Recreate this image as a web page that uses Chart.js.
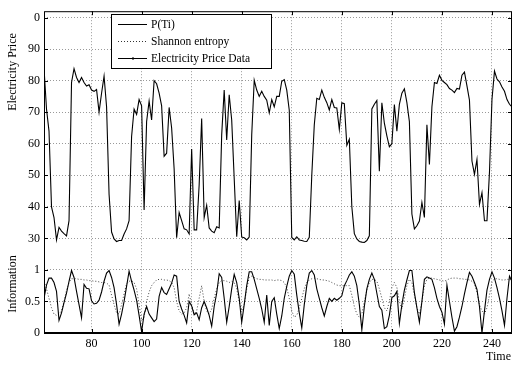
<!DOCTYPE html>
<html>
<head>
<meta charset="utf-8">
<script src="https://cdn.jsdelivr.net/npm/chart.js@4.4.0/dist/chart.umd.min.js"></script>
<style>
  html, body { margin: 0; padding: 0; background: #fff; }
  #wrap { width: 513px; height: 365px; }
</style>
</head>
<body>
<div id="wrap"><canvas id="chart" width="513" height="365"></canvas></div>
<script>
// time runs from 61 to 248, one sample per step
const startTime = 61;

const price = [
    84, 71, 64, 40, 36.6, 29.5, 33.5, 32.3, 31.5, 30.8,
    35.6, 79.4, 83.8, 81, 79.4, 81, 79.4, 78.3, 78.7, 77,
    76.6, 77.2, 70, 76, 81.4, 71.7, 44, 32, 29.8, 29,
    29.3, 29.3, 31.4, 33, 35.6, 62.3, 71, 69.3, 74, 72,
    39, 67, 73.5, 67.5, 80, 79, 76, 72, 56, 57,
    71.5, 65, 52, 30.2, 38.2, 35.6, 33, 32.7, 31.4, 58.3,
    32.7, 32.7, 47, 68, 36.6, 40.5, 33.3, 32.3, 31.8, 33.7,
    33.3, 62.8, 77, 61.2, 75.5, 67.5, 49, 30.5, 42, 30.4,
    30.2, 29.5, 30.4, 62.8, 80.1, 77, 75, 76.6, 75, 73.8,
    69.8, 74, 71.7, 75, 75, 79.8, 80.3, 77, 70.6, 30.3,
    29.5, 30.5, 29.5, 29.3, 29.1, 29, 30.3, 50, 66, 74.4,
    74, 77, 74.7, 73, 70.7, 74, 71.5, 71.3, 64.5, 73,
    72.7, 59.5, 61.4, 40, 31.5, 29.8, 29, 28.8, 28.7, 29.3,
    30.8, 71, 72.5, 73.7, 51.3, 73, 66.5, 62.5, 59, 60,
    72.4, 64, 72.5, 76, 77.4, 73, 67, 37.7, 33, 34,
    35.5, 41.4, 36.6, 66, 53.4, 71.7, 79.4, 79.1, 81.7, 80.1,
    79.4, 78.7, 77.5, 77, 76.2, 77.5, 77.3, 81.7, 82.7, 78.3,
    73.8, 54.5, 50.3, 55, 40.8, 44.5, 35.6, 35.6, 51, 74,
    83, 80.5, 79.6, 78, 76.6, 74, 72.5, 71.7
];

const pTi = [
    0.55, 0.76, 0.87, 0.87, 0.8, 0.66, 0.2, 0.32, 0.48, 0.63,
    0.82, 0.99, 0.88, 0.66, 0.45, 0.24, 0.77, 0.71, 0.7, 0.51,
    0.46, 0.47, 0.52, 0.65, 0.82, 0.95, 0.99, 0.88, 0.72, 0.45,
    0.14, 0.3, 0.5, 0.74, 0.98, 0.82, 0.68, 0.52, 0.28, 0.02,
    0.3, 0.42, 0.3, 0.24, 0.18, 0.22, 0.58, 0.72, 0.64, 0.61,
    0.7, 0.79, 0.92, 0.9, 0.5, 0.38, 0.28, 0.16, 0.5, 0.43,
    0.29, 0.32, 0.21, 0.4, 0.5, 0.4, 0.28, 0.11, 0.42, 0.63,
    0.94, 0.88, 0.55, 0.17, 0.42, 0.7, 0.93, 0.8, 0.55, 0.17,
    0.45, 0.75, 0.97, 0.97, 0.85, 0.7, 0.55, 0.38, 0.17, 0.6,
    0.12, 0.5, 0.56, 0.3, 0.07, 0.27, 0.55, 0.74, 0.9, 0.99,
    0.93, 0.6, 0.32, 0.08, 0.45, 0.75, 0.95, 0.99, 0.92, 0.7,
    0.55, 0.4, 0.27, 0.42, 0.55, 0.5, 0.55, 0.52, 0.55, 0.59,
    0.75, 0.83, 0.92, 0.97, 0.9, 0.75, 0.45, 0.05, 0.42, 0.7,
    0.85, 0.95, 0.85, 0.63, 0.42, 0.36, 0.07, 0.1, 0.28, 0.56,
    0.59, 0.66, 0.15, 0.45, 0.68, 0.84, 0.99, 0.99, 0.64, 0.4,
    0.17, 0.5, 0.85, 0.89, 0.87, 0.85, 0.72, 0.55, 0.42, 0.33,
    0.14, 0.76, 0.5, 0.25, 0.03, 0.1, 0.25, 0.42, 0.62, 0.8,
    0.96, 0.9, 0.8, 0.69, 0.42, 0.0, 0.35, 0.68, 0.85, 0.97,
    0.87, 0.72, 0.55, 0.35, 0.12, 0.55, 0.9, 0.82
];

const shannon = [
    0.82, 0.7, 0.55, 0.4, 0.3, 0.28, 0.3, 0.35, 0.5, 0.68,
    0.8, 0.86, 0.86, 0.86, 0.85, 0.85, 0.84, 0.84, 0.83, 0.83,
    0.82, 0.82, 0.81, 0.8, 0.8, 0.79, 0.76, 0.6, 0.45, 0.32,
    0.3, 0.45, 0.62, 0.78, 0.82, 0.83, 0.8, 0.7, 0.45, 0.2,
    0.25, 0.5, 0.65, 0.75, 0.8, 0.84, 0.85, 0.85, 0.84, 0.84,
    0.83, 0.8, 0.72, 0.5, 0.35, 0.3, 0.32, 0.4, 0.62, 0.45,
    0.3, 0.35, 0.55, 0.75, 0.5, 0.35, 0.3, 0.38, 0.55, 0.7,
    0.8, 0.83, 0.83, 0.82, 0.8, 0.82, 0.8, 0.7, 0.5, 0.35,
    0.45, 0.7, 0.88, 0.9, 0.88, 0.86, 0.85, 0.85, 0.84, 0.84,
    0.84, 0.84, 0.83, 0.84, 0.84, 0.83, 0.8, 0.72, 0.55, 0.35,
    0.25, 0.28, 0.4, 0.55, 0.7, 0.8, 0.84, 0.86, 0.87, 0.86,
    0.85, 0.84, 0.84, 0.83, 0.82, 0.8, 0.78, 0.76, 0.75, 0.75,
    0.75, 0.75, 0.75, 0.6, 0.42, 0.3, 0.25, 0.3, 0.5, 0.68,
    0.8, 0.85, 0.85, 0.82, 0.7, 0.55, 0.4, 0.35, 0.5, 0.72,
    0.8, 0.72, 0.5, 0.38, 0.55, 0.75, 0.85, 0.8, 0.6, 0.4,
    0.3, 0.5, 0.75, 0.85, 0.87, 0.87, 0.86, 0.85, 0.84, 0.83,
    0.82, 0.84, 0.86, 0.87, 0.87, 0.87, 0.86, 0.86, 0.85, 0.85,
    0.84, 0.82, 0.78, 0.65, 0.45, 0.35, 0.3, 0.4, 0.6, 0.8,
    0.86, 0.86, 0.85, 0.84, 0.84, 0.85, 0.85, 0.84
];

// information (0..1) shares the price axis, drawn in the 0..20 band
const infoScale = 20;

const xTicks = [80, 100, 120, 140, 160, 180, 200, 220, 240];
const yTicks = [0, 10, 20, 30, 40, 50, 60, 70, 80, 90, 100];
const yTickLabels = ['0', '0.5', '1', '30', '40', '50', '60', '70', '80', '90', '0'];
const legendLabels = ['P(Ti)', 'Shannon entropy', 'Electricity Price Data'];

const FONT = "'Liberation Serif', 'DejaVu Serif', serif";

function toPoints(values, scale) {
    return values.map((v, i) => ({ x: startTime + i, y: v * scale }));
}

const decorPlugin = {
    id: 'decor',
    afterDatasetsDraw(chart) {
        const { ctx, chartArea: a, scales } = chart;
        const x = scales.x, y = scales.y;
        ctx.save();

        // frame
        ctx.strokeStyle = '#000';
        ctx.lineWidth = 1;
        ctx.strokeRect(a.left + 0.5, a.top + 0.5, a.right - a.left - 1, a.bottom - a.top - 1);
        ctx.lineWidth = 2;
        ctx.beginPath();
        ctx.moveTo(a.left, a.bottom);
        ctx.lineTo(a.right, a.bottom);
        ctx.stroke();

        // inward tick marks
        ctx.lineWidth = 1;
        ctx.beginPath();
        xTicks.forEach(v => {
            const px = Math.round(x.getPixelForValue(v)) + 0.5;
            ctx.moveTo(px, a.bottom); ctx.lineTo(px, a.bottom - 4);
            ctx.moveTo(px, a.top); ctx.lineTo(px, a.top + 4);
        });
        yTicks.forEach(v => {
            const py = Math.round(y.getPixelForValue(v)) + 0.5;
            ctx.moveTo(a.left, py); ctx.lineTo(a.left + 4, py);
            ctx.moveTo(a.right, py); ctx.lineTo(a.right - 4, py);
        });
        ctx.stroke();

        // legend
        const bx = 111.5, by = 14.5, bw = 160, bh = 54;
        ctx.fillStyle = '#fff';
        ctx.fillRect(bx, by, bw, bh);
        ctx.strokeStyle = '#000';
        ctx.lineWidth = 1;
        ctx.strokeRect(bx, by, bw, bh);
        const rows = [24.5, 41.5, 58.5];
        ctx.font = '11.5px ' + FONT;
        ctx.textBaseline = 'middle';
        ctx.textAlign = 'left';
        rows.forEach((ry, i) => {
            ctx.beginPath();
            if (i === 1) {
                ctx.setLineDash([1, 2]);
                ctx.strokeStyle = '#333';
            } else {
                ctx.setLineDash([]);
                ctx.strokeStyle = '#000';
            }
            ctx.moveTo(118, ry);
            ctx.lineTo(147, ry);
            ctx.stroke();
            ctx.setLineDash([]);
            if (i === 2) {
                ctx.fillStyle = '#000';
                ctx.fillRect(132, ry - 1, 2, 2);
            }
            ctx.fillStyle = '#000';
            ctx.fillText(legendLabels[i], 151, ry);
        });

        // axis titles
        ctx.fillStyle = '#000';
        ctx.font = '12px ' + FONT;
        ctx.textAlign = 'center';
        ctx.textBaseline = 'middle';
        ctx.save();
        ctx.translate(13, 72);
        ctx.rotate(-Math.PI / 2);
        ctx.fillText('Electricity Price', 0, 0);
        ctx.restore();
        ctx.save();
        ctx.translate(13, 284);
        ctx.rotate(-Math.PI / 2);
        ctx.fillText('Information', 0, 0);
        ctx.restore();
        ctx.textAlign = 'right';
        ctx.fillText('Time', 511, 357);

        ctx.restore();
    }
};

new Chart(document.getElementById('chart').getContext('2d'), {
    type: 'line',
    data: {
        datasets: [
            {
                label: 'Electricity Price Data',
                data: toPoints(price, 1),
                borderColor: '#000',
                borderWidth: 1.1,
                pointRadius: 0,
                tension: 0
            },
            {
                label: 'P(Ti)',
                data: toPoints(pTi, infoScale),
                borderColor: '#000',
                borderWidth: 1.1,
                pointRadius: 0,
                tension: 0
            },
            {
                label: 'Shannon entropy',
                data: toPoints(shannon, infoScale),
                borderColor: '#444',
                borderWidth: 1,
                borderDash: [1, 2],
                pointRadius: 0,
                tension: 0
            }
        ]
    },
    options: {
        responsive: false,
        animation: false,
        layout: { padding: { top: 7, right: 1, left: 0, bottom: 0 } },
        plugins: {
            legend: { display: false },
            tooltip: { enabled: false }
        },
        scales: {
            x: {
                type: 'linear',
                min: 61,
                max: 248,
                afterBuildTicks: scale => { scale.ticks = xTicks.map(v => ({ value: v })); },
                afterFit: scale => { scale.height = 32; },
                ticks: {
                    color: '#000',
                    font: { family: FONT, size: 12 },
                    padding: 4,
                    maxRotation: 0
                },
                grid: { color: '#999', lineWidth: 1, drawTicks: false },
                border: { display: false, dash: [1, 2] }
            },
            y: {
                type: 'linear',
                min: 0,
                max: 102,
                afterBuildTicks: scale => { scale.ticks = yTicks.map(v => ({ value: v })); },
                afterFit: scale => { scale.width = 44; },
                ticks: {
                    color: '#000',
                    font: { family: FONT, size: 12 },
                    padding: 4,
                    callback: value => {
                        const k = yTicks.indexOf(value);
                        return k >= 0 ? yTickLabels[k] : '';
                    }
                },
                grid: { color: '#999', lineWidth: 1, drawTicks: false },
                border: { display: false, dash: [1, 2] }
            }
        }
    },
    plugins: [decorPlugin]
});
</script>
</body>
</html>
